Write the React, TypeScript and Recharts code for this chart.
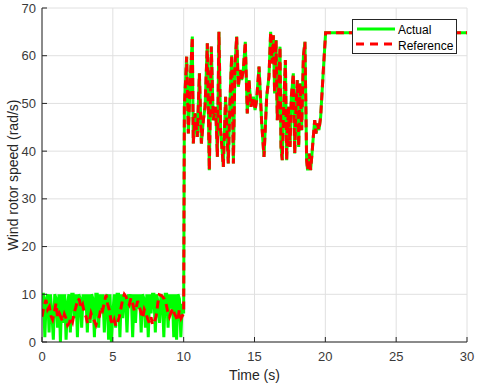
import React from 'react';
import { LineChart, Line, XAxis, YAxis, CartesianGrid, Legend } from 'recharts';

// Time ticks and speed ticks
const xTicks = [0, 5, 10, 15, 20, 25, 30];
const yTicks = [0, 10, 20, 30, 40, 50, 60, 70];

// Actual rotor speed, low-wind phase (0-10 s)
const actLowT = [
  0, 0.1, 0.2, 0.3, 0.4, 0.5, 0.6, 0.7, 0.8, 0.9,
  1, 1.1, 1.2, 1.3, 1.4, 1.5, 1.6, 1.7, 1.8, 1.9,
  2, 2.1, 2.2, 2.3, 2.4, 2.5, 2.6, 2.7, 2.8, 2.9,
  3, 3.1, 3.2, 3.3, 3.4, 3.5, 3.6, 3.7, 3.8, 3.9,
  4, 4.1, 4.2, 4.3, 4.4, 4.5, 4.6, 4.7, 4.8, 4.9,
  5, 5.1, 5.2, 5.3, 5.4, 5.5, 5.6, 5.7, 5.8, 5.9,
  6, 6.1, 6.2, 6.3, 6.4, 6.5, 6.6, 6.7, 6.8, 6.9,
  7, 7.1, 7.2, 7.3, 7.4, 7.5, 7.6, 7.7, 7.8, 7.9,
  8, 8.1, 8.2, 8.3, 8.4, 8.5, 8.6, 8.7, 8.8, 8.9,
  9, 9.1, 9.2, 9.3, 9.4, 9.5, 9.6, 9.7, 9.8, 9.9, 10,
];
const actLowV = [
  10, 10, 1, 9, 10, 2, 10, 6, 0.5, 10,
  9, 3, 10, 0, 10, 4, 10, 0.5, 8, 10,
  2, 10, 10, 5, 10, 1, 10, 9, 3, 10,
  7, 10, 2, 10, 4, 10, 9, 1, 10, 10,
  3, 10, 6, 10, 2, 9, 10, 0.5, 10, 0,
  6, 10, 3, 10, 10, 1, 10, 5, 10, 9,
  2, 10, 8, 10, 1, 10, 4, 10, 7, 10,
  2, 10, 9, 3, 10, 1, 10, 6, 10, 10,
  2, 10, 8, 4, 10, 9, 1, 10, 10, 3,
  10, 7, 10, 1, 10, 0.5, 10, 9, 1, 8, 6,
];

// Reference rotor speed, low-wind phase (0-10 s)
const refLowT = [
  0, 0.14, 0.28, 0.4, 0.52, 0.63, 0.75, 0.87, 0.99, 1.1,
  1.22, 1.34, 1.46, 1.58, 1.69, 1.81, 1.93, 2.05, 2.16, 2.28,
  2.4, 2.52, 2.64, 2.75, 2.87, 2.99, 3.11, 3.22, 3.34, 3.46,
  3.58, 3.7, 3.81, 3.93, 4.05, 4.17, 4.28, 4.4, 4.52, 4.63,
  4.75, 4.87, 4.99, 5.1, 5.22, 5.34, 5.46, 5.58, 5.69, 5.81,
  5.93, 6.05, 6.16, 6.28, 6.4, 6.52, 6.64, 6.75, 6.87, 6.99,
  7.11, 7.22, 7.34, 7.46, 7.58, 7.7, 7.81, 7.93, 8.05, 8.17,
  8.28, 8.4, 8.52, 8.63, 8.75, 8.87, 9, 9.11, 9.22, 9.34,
  9.46, 9.58, 9.69, 9.82, 10,
];
const refLowV = [
  5.3, 7.5, 8.8, 6.8, 7.4, 5.5, 4.7, 6.2, 8.1, 5.2,
  6, 5.1, 4.3, 5.8, 5, 3.5, 4, 5.2, 4.3, 6.2,
  7.4, 9.1, 8.8, 7, 7.8, 6.1, 5.3, 3.9, 4.3, 6,
  5, 4.4, 3.6, 4.8, 5.3, 7.4, 6.7, 8.2, 9.9, 8,
  6.7, 4.5, 3.6, 4.6, 3.3, 4.2, 5.3, 7.2, 8.8, 10,
  9.5, 8.4, 7.8, 9.2, 8.1, 6.5, 7.1, 8.6, 7.4, 6.2,
  5, 6.8, 6, 4.8, 4, 5.2, 3.6, 4.2, 5.3, 8,
  9.9, 9.8, 9.5, 9, 8.1, 6.5, 5.3, 6.2, 7.1, 6,
  5.3, 4.4, 6.7, 5, 6,
];

// High-wind phase (10-30 s), actual tracks reference
const hiT = [
  10.05, 10.21, 10.33, 10.45, 10.61, 10.68, 10.8, 10.96, 11.11, 11.25,
  11.39, 11.51, 11.67, 11.81, 11.95, 12.09, 12.26, 12.38, 12.49, 12.61,
  12.8, 12.96, 13.15, 13.27, 13.39, 13.51, 13.62, 13.74, 13.86, 13.98,
  14.09, 14.21, 14.35, 14.49, 14.61, 14.75, 14.92, 15.04, 15.15, 15.32,
  15.51, 15.67, 15.86, 16.02, 16.14, 16.24, 16.33, 16.42, 16.52, 16.61,
  16.71, 16.8, 16.87, 16.96, 17.06, 17.18, 17.27, 17.39, 17.51, 17.6,
  17.74, 17.84, 17.93, 18.02, 18.12, 18.21, 18.33, 18.45, 18.56, 18.68,
  18.75, 18.87, 18.96, 19.06, 19.15, 19.25, 19.34, 19.44, 19.55, 19.67,
  19.86, 20.02, 30,
];
const hiV = [
  49.3, 59.8, 43.7, 53.5, 64, 41.6, 47.9, 43, 56.3, 41.6,
  46.5, 49.3, 62.6, 36, 61.9, 46.5, 49.3, 38.8, 65, 44.4,
  36.7, 51.4, 37.4, 50.7, 60.1, 37.4, 57.7, 64, 53.5, 57,
  54.9, 57, 62.9, 47.9, 54.9, 49.3, 51.4, 48.6, 50.7, 57.7,
  45.8, 38.8, 51.4, 55.6, 65, 58.4, 64.3, 52.1, 63.3, 46.5,
  53.5, 61.9, 40.9, 38.1, 49.3, 59.1, 38.1, 49.3, 40.9, 51.4,
  56.3, 39.5, 49.3, 54.9, 40.9, 54.2, 44.4, 59.8, 62.9, 38.1,
  36, 39.5, 36, 39.5, 43, 46.5, 43.7, 45.8, 44.4, 47.2,
  57, 64.8, 64.8,
];

const zip = (t: number[], v: number[]) => t.map((x, i) => ({ t: x, v: v[i] }));
const actualData = [...zip(actLowT, actLowV), ...zip(hiT, hiV)];
const refData = [...zip(refLowT, refLowV), ...zip(hiT, hiV)];

const FONT = '"Liberation Sans", Arial, Helvetica, sans-serif';
const AX = '#262626';
const TICKTXT = '#3a3a3a';

const renderLegend = () => (
  <svg width={105} height={35} style={{ display: 'block' }}>
    <rect x={0.5} y={0.5} width={104} height={34} fill="#fff" stroke={AX} strokeWidth={1} />
    <line x1={5} y1={10} x2={43} y2={10} stroke="#00ff00" strokeWidth={3} />
    <line x1={4} y1={25} x2={43} y2={25} stroke="#ff0000" strokeWidth={3} strokeDasharray="8 6" />
    <text x={46} y={15} fontSize={12} fontFamily={FONT} fill="#000">Actual</text>
    <text x={46} y={30.5} fontSize={12} fontFamily={FONT} fill="#000">Reference</text>
  </svg>
);

export default function App() {
  return (
    <div style={{ position: 'absolute', left: 0, top: 0, width: 480, height: 386, background: '#fff' }}>
      <LineChart width={480} height={386} margin={{ top: 8, right: 13, bottom: 0, left: 0 }}>
        <CartesianGrid stroke="#e0e0e0" strokeWidth={1} />
        <XAxis
          dataKey="t"
          type="number"
          domain={[0, 30]}
          ticks={xTicks}
          allowDataOverflow
          height={44}
          stroke={AX}
          tickSize={-5}
          tickMargin={15}
          tick={{ fill: TICKTXT, fontSize: 13, fontFamily: FONT }}
          label={{ value: 'Time (s)', position: 'insideBottom', offset: 6, fill: AX, fontSize: 14, fontFamily: FONT }}
        />
        <XAxis
          xAxisId="top"
          orientation="top"
          dataKey="t"
          type="number"
          domain={[0, 30]}
          ticks={xTicks}
          allowDataOverflow
          height={0}
          stroke={AX}
          tickSize={-5}
          tickFormatter={() => ''}
        />
        <YAxis
          type="number"
          domain={[0, 70]}
          ticks={yTicks}
          allowDataOverflow
          width={42}
          stroke={AX}
          tickSize={-5}
          tickMargin={11}
          tick={{ fill: TICKTXT, fontSize: 13, fontFamily: FONT }}
          label={{ value: 'Wind rotor speed (rad/s)', angle: -90, position: 'insideLeft', offset: 13, fill: AX, fontSize: 14, fontFamily: FONT, style: { textAnchor: 'middle' } }}
        />
        <YAxis
          yAxisId="right"
          orientation="right"
          type="number"
          domain={[0, 70]}
          ticks={yTicks}
          allowDataOverflow
          width={0}
          stroke={AX}
          tickSize={-5}
          tickFormatter={() => ''}
        />
        <Legend
          content={renderLegend}
          layout="vertical"
          verticalAlign="middle"
          align="center"
          wrapperStyle={{ position: 'absolute', left: 352, top: 19, width: 105, height: 35 }}
        />
        <Line
          data={actualData}
          dataKey="v"
          name="Actual"
          type="linear"
          stroke="#00ff00"
          strokeWidth={3}
          dot={false}
          isAnimationActive={false}
        />
        <Line
          data={refData}
          dataKey="v"
          name="Reference"
          type="linear"
          stroke="#ff0000"
          strokeWidth={3}
          strokeDasharray="8 5"
          dot={false}
          isAnimationActive={false}
        />
      </LineChart>
    </div>
  );
}
